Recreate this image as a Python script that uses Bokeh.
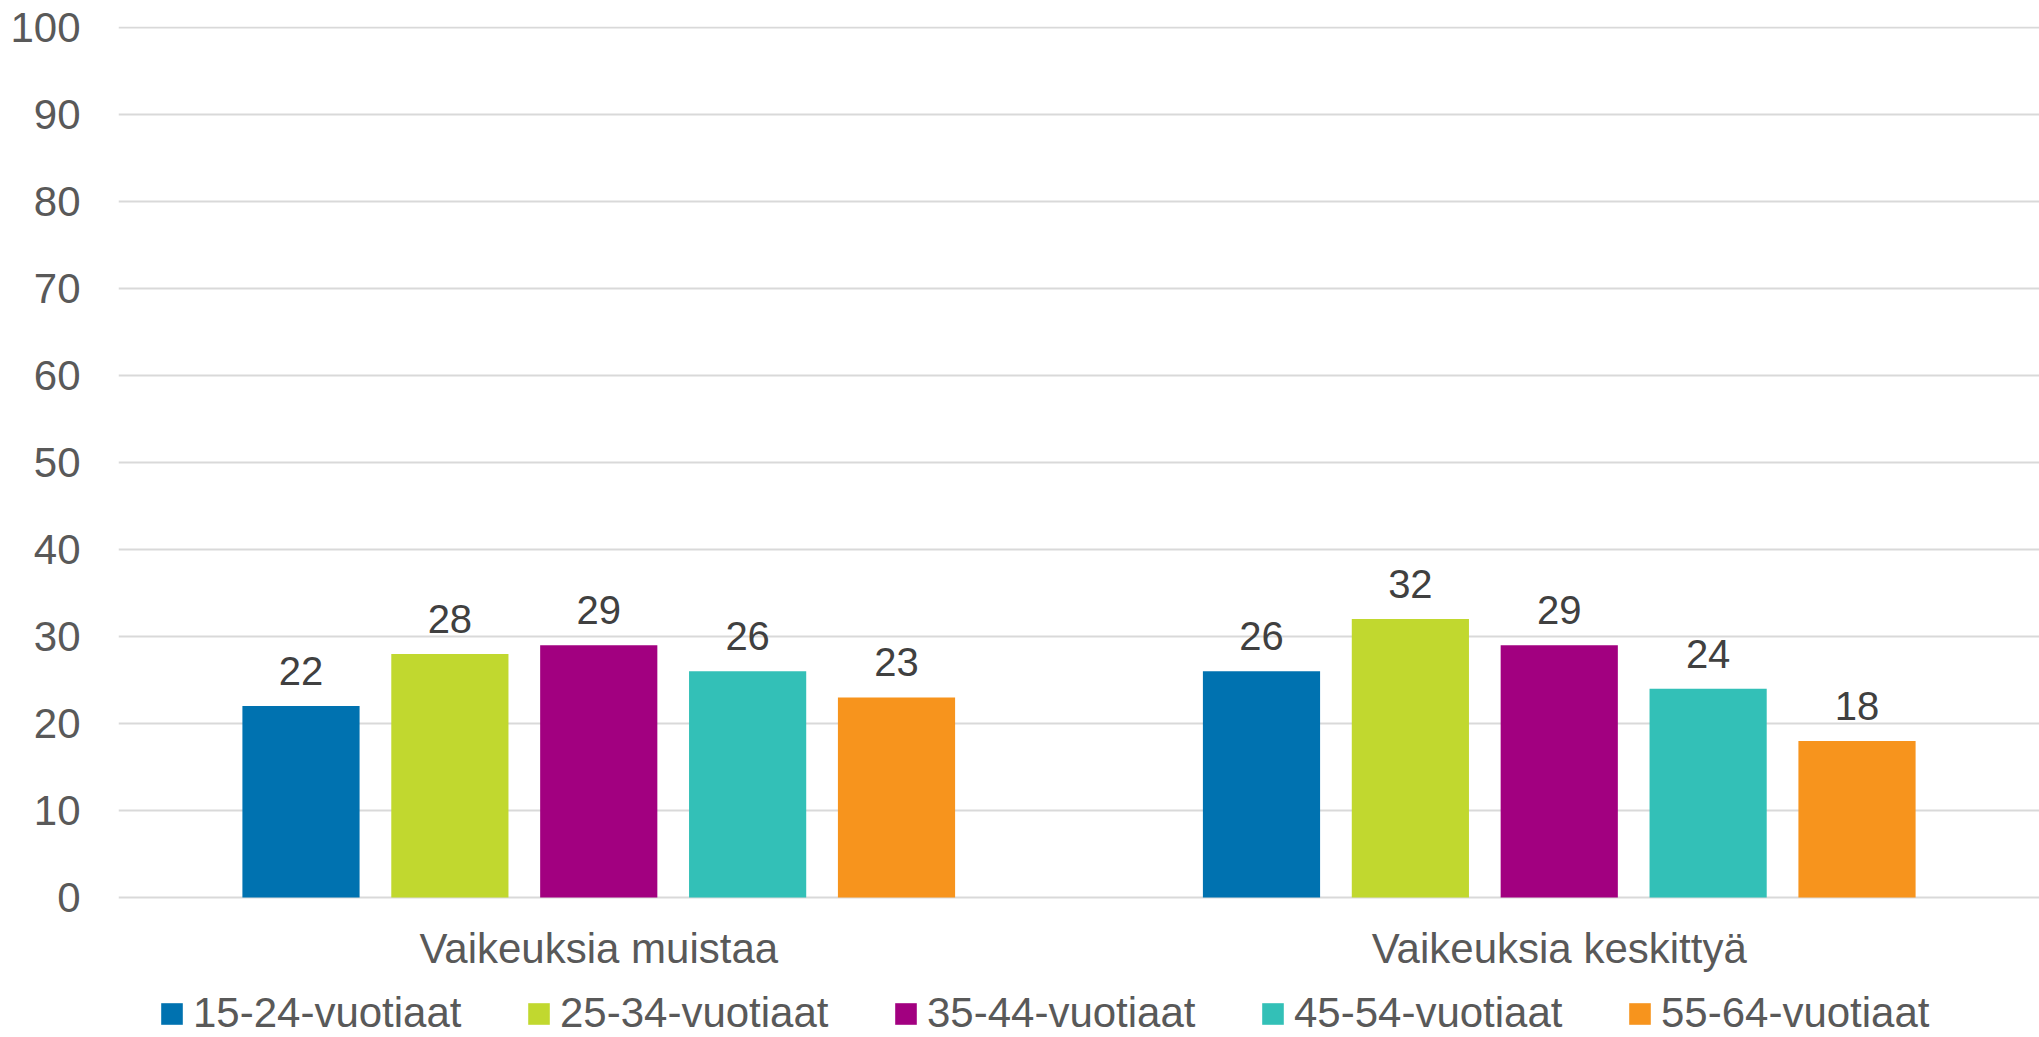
from bokeh.plotting import figure
from bokeh.models import (ColumnDataSource, Range1d, FactorRange, LabelSet, Legend,
                          LegendItem, FixedTicker)
from bokeh.core.properties import value
from bokeh.transform import dodge
from bokeh.embed import file_html
from bokeh.resources import INLINE

categories = ["Vaikeuksia muistaa", "Vaikeuksia keskittyä"]
series_names = ["15-24-vuotiaat", "25-34-vuotiaat", "35-44-vuotiaat",
                "45-54-vuotiaat", "55-64-vuotiaat"]
values_15_24 = [22, 26]
values_25_34 = [28, 32]
values_35_44 = [29, 29]
values_45_54 = [26, 24]
values_55_64 = [23, 18]
series_values = [values_15_24, values_25_34, values_35_44, values_45_54, values_55_64]
colors = ["#0072b0", "#c1d82f", "#a20080", "#33c0b7", "#f7941d"]
y_ticks = [0, 10, 20, 30, 40, 50, 60, 70, 80, 90, 100]

FONT = "Liberation Sans"

# the frame reaches the bottom of the page; the space below 0 holds
# the category labels and the legend
p = figure(width=2039, height=1037, output_backend="svg", toolbar_location=None,
           x_range=FactorRange(factors=categories, range_padding=0),
           y_range=Range1d(-16.092, 100.115),
           min_border_top=26, min_border_left=118, min_border_right=0,
           min_border_bottom=0)
p.outline_line_color = None
p.background_fill_color = "white"
p.border_fill_color = "white"

pitch = 0.155
bar_w = 0.122
items = []
for i, (name, vals, col) in enumerate(zip(series_names, series_values, colors)):
    off = (i - 2) * pitch
    src = ColumnDataSource(dict(cat=categories, val=vals, lab=[str(v) for v in vals]))
    r = p.vbar(x=dodge("cat", off, range=p.x_range), top="val", bottom=0, width=bar_w,
               source=src, fill_color=col, line_color=None)
    items.append(LegendItem(label=name, renderers=[r]))
    lbl = LabelSet(x=dodge("cat", off, range=p.x_range), y="val", text="lab",
                   source=src, text_align="center", text_baseline="alphabetic",
                   y_offset=21, text_font=value(FONT), text_font_size="40px",
                   text_color="#404040")
    p.add_layout(lbl)

# category labels under the baseline
cat_src = ColumnDataSource(dict(cat=categories, y=[0] * len(categories)))
cat_labels = LabelSet(x="cat", y="y", text="cat", source=cat_src,
                      text_align="center", text_baseline="middle", y_offset=-51,
                      text_font=value(FONT), text_font_size="42px",
                      text_color="#595959")
p.add_layout(cat_labels)

# axes
p.yaxis.ticker = FixedTicker(ticks=y_ticks)
p.yaxis.axis_line_color = None
p.yaxis.major_tick_line_color = None
p.yaxis.minor_tick_line_color = None
p.yaxis.major_tick_out = 0
p.yaxis.major_label_standoff = 38
p.yaxis.major_label_text_font = FONT
p.yaxis.major_label_text_font_size = "42px"
p.yaxis.major_label_text_color = "#595959"

p.xaxis.visible = False

p.xgrid.grid_line_color = None
p.ygrid.grid_line_color = "#d9d9d9"
p.ygrid.grid_line_width = 2

legend = Legend(items=items, orientation="horizontal", location=(40, 0),
                nrows=1, ncols=5,
                glyph_width=27, glyph_height=27, label_standoff=8, spacing=0,
                label_width=332,
                padding=0, margin=0, border_line_color=None,
                background_fill_alpha=0,
                label_text_font=FONT, label_text_font_size="42px",
                label_text_color="#595959")
p.add_layout(legend, "center")

open("out.html", "w").write(file_html(p, INLINE))
